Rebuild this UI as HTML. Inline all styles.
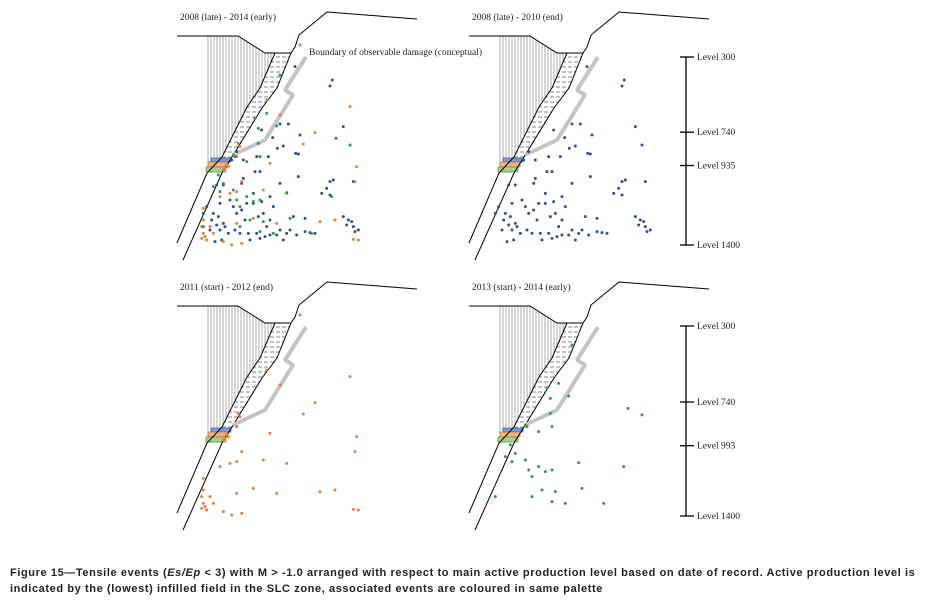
<!DOCTYPE html>
<html><head><meta charset="utf-8"><style>
body{margin:0;background:#fff;width:925px;height:612px;overflow:hidden}
svg{position:absolute;left:0;top:0}
.t{font-family:"Liberation Serif",serif;font-size:9.5px;fill:#222}
.cap{position:absolute;left:10px;top:565px;font-family:"Liberation Sans",sans-serif;font-weight:bold;font-size:11px;letter-spacing:0.6px;line-height:16px;color:#222;width:915px;white-space:nowrap}
</style></head><body>
<svg id="fig" width="925" height="612">
<defs>
<pattern id="vh" width="3" height="4" patternUnits="userSpaceOnUse"><line x1="1" y1="0" x2="1" y2="4" stroke="#777" stroke-width="0.6"/></pattern>
<pattern id="hh" width="6" height="5" patternUnits="userSpaceOnUse"><line x1="0" y1="2" x2="4" y2="2" stroke="#333" stroke-width="0.6"/></pattern>
<g id="geo">
<polygon points="207,36 238,36 265,53 275,53 260,88 247,107 222,157 207,173" fill="url(#vh)"/>
<polygon points="275,53 291,53 277,88 262,108 232,157 222,173 207,173 222,157 247,107 260,88" fill="url(#hh)"/>
<rect x="211" y="158" width="20" height="4" fill="#7d9bd6" stroke="#2a4d9c" stroke-width="0.6"/>
<rect x="208" y="162" width="20" height="5" fill="#f4b183" stroke="#c55a11" stroke-width="0.6"/>
<rect x="206" y="167" width="20" height="5" fill="#a9d18e" stroke="#548235" stroke-width="0.6"/>
<polyline points="177,36 238,36 265,53 291,53" fill="none" stroke="#000" stroke-width="1"/>
<polyline points="275,53 260,88 247,107 222,157 207,173 177,243" fill="none" stroke="#000" stroke-width="1"/>
<polyline points="417,19 327,12 299,35 295,47 291,53 277,88 262,108 232,157 222,173 183,260" fill="none" stroke="#000" stroke-width="1"/>
<polyline points="306,57 285,90 293,95 265,140 233,155" fill="none" stroke="#c4c4c4" stroke-width="4" stroke-linejoin="bevel"/>
</g>
</defs>
</svg>
<div class="cap">Figure 15—Tensile events (<i>Es/Ep</i> &lt; 3) with M &gt; -1.0 arranged with respect to main active production level based on date of record. Active production level is<br>indicated by the (lowest) infilled field in the SLC zone, associated events are coloured in same palette</div>
<script>
const titles=["2008 (late) - 2014 (early)","2008 (late) - 2010 (end)","2011 (start) - 2012 (end)","2013 (start) - 2014 (early)"];
const blue=[[375,200],[487,240],[480,258],[520,380],[390,405],[355,372],[330,372],[340,438],[322,445],[377,460],[385,462],[308,413],[275,390],[260,470],[295,470],[220,480],[200,455],[185,480],[540,435],[255,515],[270,515],[220,535],[215,550],[330,550],[385,530],[480,545],[490,540],[455,580],[470,565],[480,585],[550,545],[140,555],[160,555],[250,580],[180,600],[150,610],[130,640],[145,650],[160,670],[125,660],[140,675],[150,690],[165,680],[175,700],[120,690],[200,640],[215,630],[250,610],[275,605],[280,640],[300,660],[290,680],[260,700],[285,710],[330,690],[350,700],[380,705],[405,695],[420,698],[435,700],[405,655],[520,650],[535,660],[545,665],[530,675],[550,680],[555,695],[565,690],[210,700],[235,700],[195,690],[135,725],[155,720],[100,640],[110,620],[240,720],[270,715],[300,705],[320,705],[310,620],[300,590],[340,720],[360,690],[370,650],[225,660],[190,620],[230,610],[265,650]];
const orange=[[390,135],[540,320],[330,345],[435,398],[400,432],[300,490],[210,440],[200,470],[560,500],[555,545],[350,580],[175,500],[160,510],[215,545],[200,575],[150,590],[100,625],[100,660],[95,680],[100,700],[105,710],[110,720],[95,715],[120,680],[130,700],[200,670],[250,655],[320,670],[450,665],[495,660],[550,718],[565,720],[185,735],[160,725],[215,730],[180,580],[280,570],[290,300],[205,430],[170,495],[165,505]];
const green=[[330,225],[290,340],[255,355],[265,385],[320,378],[498,415],[540,435],[265,430],[190,465],[195,470],[270,470],[230,485],[145,525],[160,550],[150,575],[190,570],[230,590],[250,605],[270,600],[210,620],[350,578],[485,590],[360,655],[240,660],[210,680],[280,665],[270,695],[310,700],[425,700],[100,680],[130,560],[200,600]];
const levelsTop=["Level 300","Level 740","Level 935","Level 1400"];
const depthsTop=[300,740,935,1400];
const levelsBot=["Level 300","Level 740","Level 993","Level 1400"];
const depthsBot=[300,740,993,1400];
const NS="http://www.w3.org/2000/svg";
const svg=document.getElementById('fig');
function mk(t,a){const e=document.createElementNS(NS,t);for(const k in a)e.setAttribute(k,a[k]);return e;}
const panels=[{dx:0,dy:0,s:[[blue,'#2e4f9e'],[orange,'#ed7d31'],[green,'#2e9a4e']]},{dx:292,dy:0,s:[[blue,'#2e4f9e']]},{dx:0,dy:270,s:[[orange,'#ed7d31']]},{dx:292,dy:270,s:[[green,'#2e9a4e']]}];
const px=v=>170+v/3, py=v=>v/3;
panels.forEach((p,i)=>{
 const g=mk('g',{transform:`translate(${p.dx},${p.dy})`});
 
 
 const u=mk('use',{href:'#geo'});
 
 
 g.appendChild(u);
 const t=mk('text',{x:180,y:20,class:'t'});t.textContent=titles[i];
 
 
 g.appendChild(t);
 p.s.forEach(([arr,c])=>arr.forEach(([x,y])=>{
  const d=mk('circle',{cx:px(x),cy:py(y),r:1.5,fill:c});
  
  
  g.appendChild(d);
 }));
 svg.appendChild(g);
});
const b=mk('text',{x:309,y:55,class:'t','font-size':'8.5'});b.textContent="Boundary of observable damage (conceptual)";


svg.appendChild(b);
function scale(labels,depths,y0,y1){
 const ys=d=>y0+(d-300)/(1400-300)*(y1-y0);
 const l=mk('line',{x1:686,y1:y0,x2:686,y2:y1,stroke:'#000','stroke-width':1.3});
 
 
 svg.appendChild(l);
 labels.forEach((s,k)=>{
  const y=ys(depths[k]);
  const tk=mk('line',{x1:680,y1:y,x2:694,y2:y,stroke:'#000','stroke-width':1.3});
  
  
  svg.appendChild(tk);
  const tx=mk('text',{x:697,y:y+3,class:'t'});tx.textContent=s;
  
  
  svg.appendChild(tx);
 });
}
scale(levelsTop,depthsTop,57,245);
scale(levelsBot,depthsBot,326,516);
</script>
</body></html>
